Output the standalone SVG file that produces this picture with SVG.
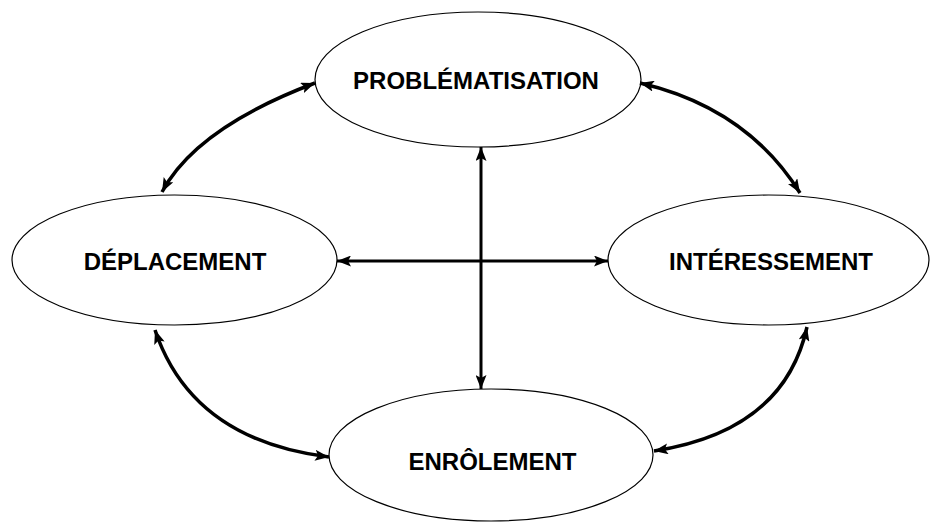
<svg xmlns="http://www.w3.org/2000/svg" width="930" height="522" viewBox="0 0 930 522">
<defs>
<style>
.node ellipse{fill:#fff;stroke:#000;stroke-width:1.2}
.node text{font-family:"Liberation Sans",Arial,sans-serif;font-weight:bold;font-size:24px;text-anchor:middle;fill:#000}
.conn path{fill:none;stroke:#000;stroke-width:3}
.conn path.curve{stroke-width:3.5}
</style>
<marker id="ah" viewBox="0 0 14 11" refX="14" refY="5.5" markerWidth="14" markerHeight="11" markerUnits="userSpaceOnUse" orient="auto-start-reverse">
<path d="M0,0 L14,5.5 L0,11 L3,5.5 Z" fill="#000"/>
</marker>
</defs>
<rect width="930" height="522" fill="#fff"/>
<g id="n-problematisation" class="node">
<ellipse cx="478" cy="79.5" rx="163" ry="67.5"/>
<text x="476" y="89">PROBLÉMATISATION</text>
</g>
<g id="n-deplacement" class="node">
<ellipse cx="174.5" cy="260" rx="162.5" ry="65"/>
<text x="175" y="270">DÉPLACEMENT</text>
</g>
<g id="n-interessement" class="node">
<ellipse cx="768.5" cy="260" rx="160.5" ry="65"/>
<text x="771" y="270">INTÉRESSEMENT</text>
</g>
<g id="n-enrolement" class="node">
<ellipse cx="491" cy="455" rx="162" ry="66"/>
<text x="492.5" y="470">ENRÔLEMENT</text>
</g>
<g id="connectors" class="conn">
<path class="curve" d="M162,192 Q196,128 315,83" marker-start="url(#ah)" marker-end="url(#ah)"/>
<path class="curve" d="M640,83 Q747,108 800,193" marker-start="url(#ah)" marker-end="url(#ah)"/>
<path class="curve" d="M155,330 Q192,440 329,457" marker-start="url(#ah)" marker-end="url(#ah)"/>
<path class="curve" d="M807,327 Q784,431 654,451" marker-start="url(#ah)" marker-end="url(#ah)"/>
<path d="M481,147 L481,389" marker-start="url(#ah)" marker-end="url(#ah)"/>
<path d="M337,261 L608,261" marker-start="url(#ah)" marker-end="url(#ah)"/>
</g>
</svg>
